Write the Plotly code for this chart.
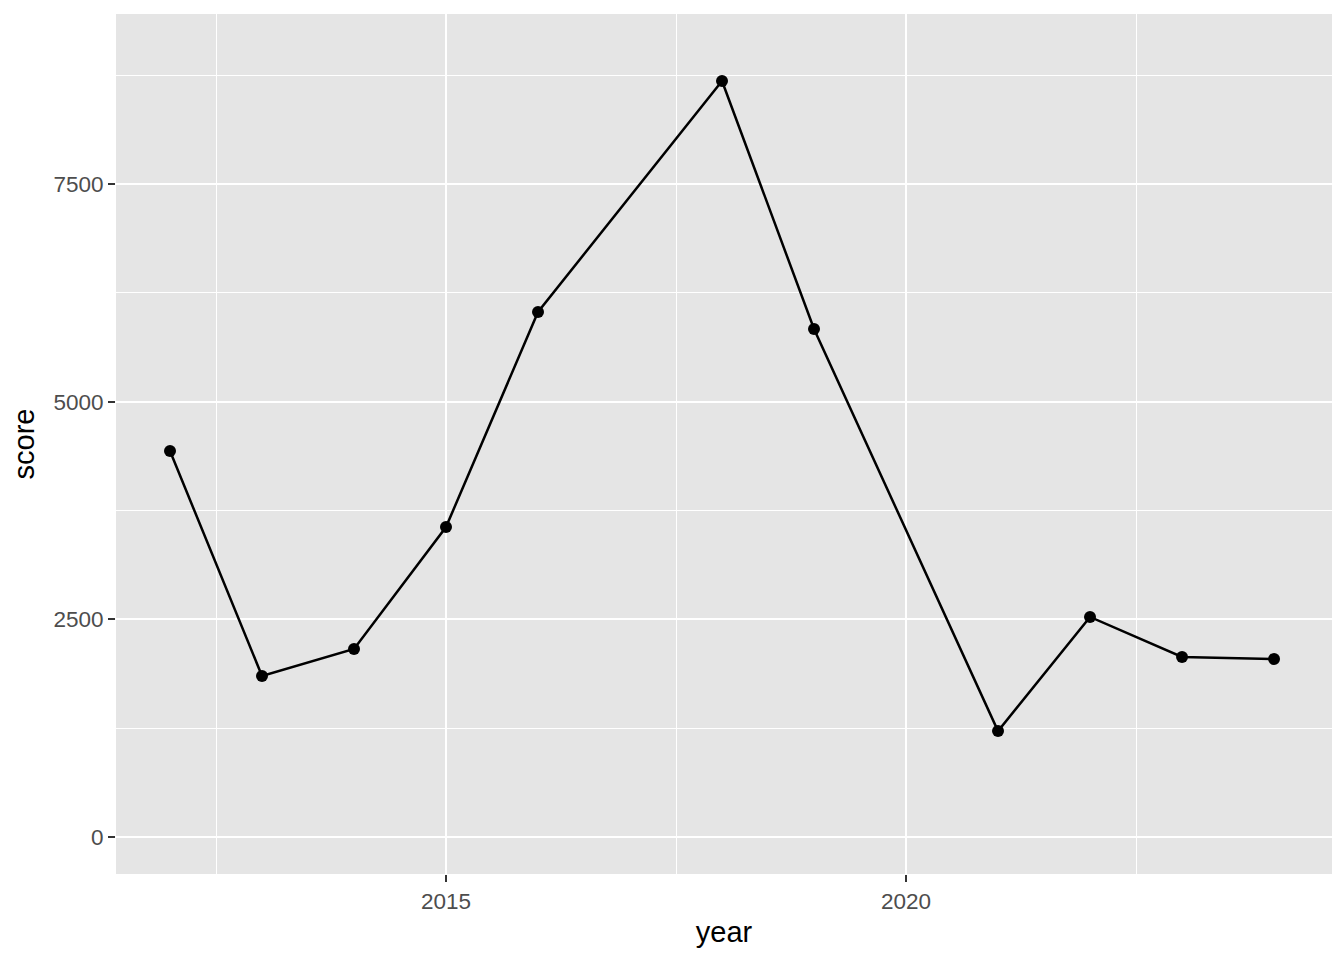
import plotly.graph_objects as go

years = [2012, 2013, 2014, 2015, 2016, 2018, 2019, 2021, 2022, 2023, 2024]
scores = [4433, 1849, 2159, 3560, 6030, 8683, 5834, 1217, 2527, 2067, 2044]

x_ticks = [2015, 2020]
y_ticks = [0, 2500, 5000, 7500]

fig = go.Figure()
fig.add_trace(go.Scatter(
    x=years, y=scores, mode="lines+markers",
    line=dict(color="black", width=2.5),
    marker=dict(color="black", size=12),
    showlegend=False,
))

fig.update_layout(
    width=1344, height=960,
    margin=dict(l=108, r=20, t=6, b=94),
    paper_bgcolor="white",
    plot_bgcolor="#E5E5E5",
    font=dict(family="Liberation Sans, Arial, sans-serif"),
    xaxis=dict(
        range=[2011.413, 2024.63],
        tickvals=x_ticks, ticktext=[str(v) for v in x_ticks],
        showgrid=True, gridcolor="white", gridwidth=2.2,
        minor=dict(tickvals=[2012.5, 2017.5, 2022.5], showgrid=True, gridcolor="white", gridwidth=1.1, ticks=""),
        ticks="outside", ticklen=7, tickcolor="#333333", tickwidth=2.2,
        tickfont=dict(size=22.5, color="#4D4D4D"),
        title=dict(text="year", font=dict(size=29, color="black"), standoff=8),
        zeroline=False, showline=False,
    ),
    yaxis=dict(
        range=[-425, 9452],
        tickvals=y_ticks, ticktext=[str(v) for v in y_ticks],
        showgrid=True, gridcolor="white", gridwidth=2.2,
        minor=dict(tickvals=[1250, 3750, 6250, 8750], showgrid=True, gridcolor="white", gridwidth=1.1, ticks=""),
        ticks="outside", ticklen=7, tickcolor="#333333", tickwidth=2.2,
        tickfont=dict(size=22.5, color="#4D4D4D"),
        title=dict(text="score", font=dict(size=29, color="black"), standoff=10),
        zeroline=False, showline=False,
    ),
)

fig.write_html("out.html")
